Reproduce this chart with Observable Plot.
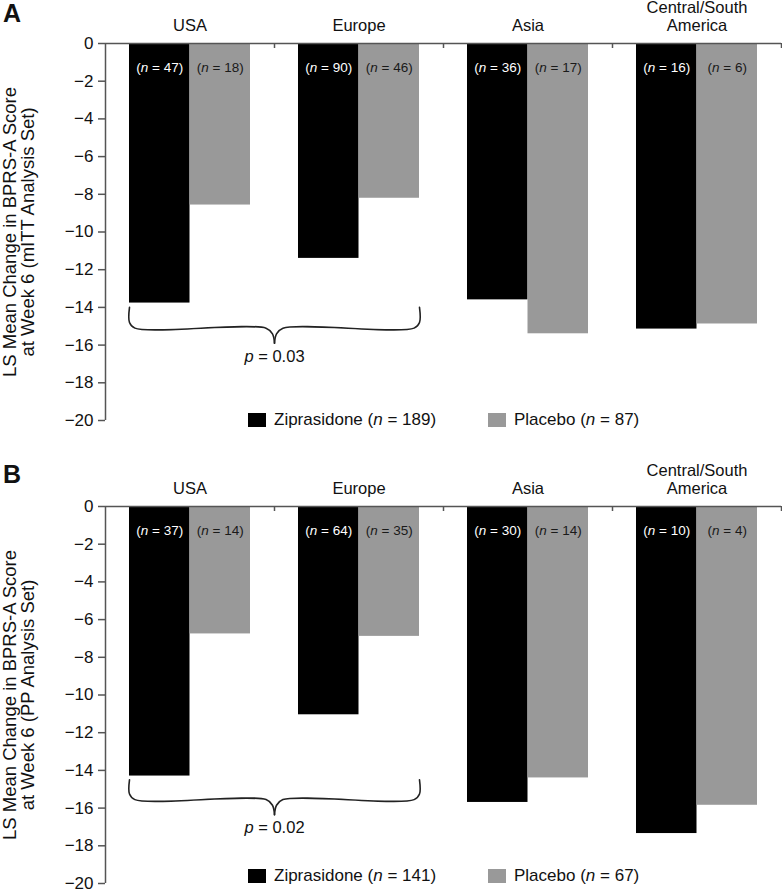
<!DOCTYPE html>
<html>
<head>
<meta charset="utf-8">
<script src="https://cdn.jsdelivr.net/npm/d3@7"></script>
<script src="https://cdn.jsdelivr.net/npm/@observablehq/plot@0.6"></script>
<style>
  html, body { margin: 0; padding: 0; background: #fff; overflow: hidden; }
  body { font-family: "Liberation Sans", Arial, Helvetica, sans-serif; color: #111; }
  .panel { position: relative; width: 782px; }
  .tag { position: absolute; left: 3px; font-weight: bold; font-size: 25px; line-height: 25px; }
  .legend { position: absolute; display: flex; align-items: center; font-size: 17px; line-height: 20px; height: 20px; white-space: pre; }
  .sw { display: inline-block; width: 18px; height: 14px; margin-right: 8px; }
</style>
</head>
<body>
<div id="chart"></div>
<script>
// ---------- data ----------
const regions = ["USA", "Europe", "Asia", "Central/South\nAmerica"];
const seriesNames = ["Ziprasidone", "Placebo"];
const seriesColors = ["#000000", "#999999"];
const yTicks = [0, -2, -4, -6, -8, -10, -12, -14, -16, -18, -20];

// Panel A: mITT analysis set
const mittZiprasidone = [-13.77, -11.4, -13.6, -15.15];
const mittPlacebo = [-8.57, -8.21, -15.4, -14.88];
const mittNZiprasidone = [47, 90, 36, 16];
const mittNPlacebo = [18, 46, 17, 6];
const mittTotals = [189, 87];
const mittP = "0.03";
const mittBrace = [-14.0, -15.1, -15.9, -16.6]; // top, arm, tip, label

// Panel B: PP analysis set
const ppZiprasidone = [-14.3, -11.05, -15.7, -17.35];
const ppPlacebo = [-6.76, -6.89, -14.4, -15.85];
const ppNZiprasidone = [37, 64, 30, 10];
const ppNPlacebo = [14, 35, 14, 4];
const ppTotals = [141, 67];
const ppP = "0.02";
const ppBrace = [-14.5, -15.55, -16.35, -17.05];

// ---------- layout constants ----------
const PAD = 0.142;  // outer gap inside a region band (fraction)
const BW = 0.358;   // bar width (fraction of region band)
const AXIS = "#555";
const FONT = "'Liberation Sans', Arial, Helvetica, sans-serif";

function italicize(svg, letter) {
  svg.querySelectorAll("text").forEach(el => {
    if (el.querySelector("tspan")) return;
    const s = el.textContent;
    const i = s.indexOf(letter + " =");
    if (i < 0) return;
    el.textContent = "";
    el.appendChild(document.createTextNode(s.slice(0, i)));
    const t = document.createElementNS("http://www.w3.org/2000/svg", "tspan");
    t.setAttribute("font-style", "italic");
    t.textContent = letter;
    el.appendChild(t);
    el.appendChild(document.createTextNode(s.slice(i + 1)));
  });
}

function makePanel(cfg) {
  const rows = [];
  regions.forEach((r, i) => {
    rows.push({region: r, i, s: 0, value: cfg.zip[i], n: cfg.nZip[i]});
    rows.push({region: r, i, s: 1, value: cfg.pla[i], n: cfg.nPla[i]});
  });
  const bx1 = d => d.i + PAD + d.s * BW;
  const bx2 = d => d.i + PAD + (d.s + 1) * BW;
  const bxc = d => d.i + PAD + (d.s + 0.5) * BW;

  // brace spanning USA & Europe bars
  const [bTop, bArm, bTip, bLab] = cfg.brace;
  const xL = 0 + PAD, xR = 1 + PAD + 2 * BW, xM = 1;
  const braceLeft = [
    [xL, bTop], [xL, bArm + 0.3], [xL + 0.032, bArm], [xM - 0.05, bArm], [xM - 0.012, bArm - 0.3], [xM, bTip]
  ].map(([x, y]) => ({x, y, side: "L"}));
  const braceRight = [
    [xR, bTop], [xR, bArm + 0.3], [xR - 0.032, bArm], [xM + 0.05, bArm], [xM + 0.012, bArm - 0.3], [xM, bTip]
  ].map(([x, y]) => ({x, y, side: "R"}));

  const height = cfg.height;
  const marginTop = 43, marginBottom = height - 420;
  const frameH = height - marginTop - marginBottom;

  const plot = Plot.plot({
    width: 782,
    height,
    marginLeft: 105,
    marginRight: 1,
    marginTop,
    marginBottom,
    style: {fontFamily: FONT, fontSize: "16.5px", color: "#111", background: "white", overflow: "visible"},
    x: {domain: [0, regions.length]},
    y: {domain: [-20, 0]},
    marks: [
      Plot.rect(rows.filter(d => d.s === 0), {x1: bx1, x2: bx2, y1: 0, y2: "value", fill: seriesColors[0]}),
      Plot.rect(rows.filter(d => d.s === 1), {x1: bx1, x2: bx2, y1: 0, y2: "value", fill: seriesColors[1]}),
      Plot.text(rows.filter(d => d.s === 0), {x: bxc, frameAnchor: "top", dy: 19, text: d => `(n = ${d.n})`, fill: "#fff", fontSize: 13.5}),
      Plot.text(rows.filter(d => d.s === 1), {x: bxc, frameAnchor: "top", dy: 19, text: d => `(n = ${d.n})`, fill: "#1a1a1a", fontSize: 13.5}),
      Plot.ruleY([0], {stroke: AXIS, strokeWidth: 1.5}),
      Plot.ruleX([0], {stroke: AXIS, strokeWidth: 1.5}),
      Plot.tickX(regions.map((_, i) => i + 1), {stroke: AXIS, strokeWidth: 1.5, insetBottom: frameH - 5}),
      Plot.line([...braceLeft, ...braceRight], {x: "x", y: "y", z: "side", curve: "catmull-rom", stroke: "#222", strokeWidth: 1.6}),
      Plot.text([`p = ${cfg.p}`], {x: xM, y: bLab, text: d => d, fontSize: 16.5, fill: "#111"}),
      Plot.text([cfg.ylabel], {frameAnchor: "left", dx: -86.5, rotate: -90, textAnchor: "middle", text: d => d, fontSize: 18.5, lineHeight: 1.0, fill: "#111"}),
      Plot.axisY({ticks: yTicks, tickSize: 7, tickPadding: 5, fontSize: 17, stroke: AXIS, strokeWidth: 1.5, fill: "#111", label: null,
        tickFormat: d => d === 0 ? "0" : "\u2212" + Math.abs(d)}),
      Plot.axisX({anchor: "top", ticks: regions.map((_, i) => i + 0.5), tickFormat: d => regions[Math.floor(d)],
        tickSize: 0, tickPadding: 13, fontSize: 16.5, fill: "#111", label: null, lineHeight: 1.05})
    ]
  });
  italicize(plot, "n");
  italicize(plot, "p");

  const div = document.createElement("div");
  div.className = "panel";
  div.style.height = height + "px";
  div.appendChild(plot);

  const tag = document.createElement("div");
  tag.className = "tag";
  tag.style.top = cfg.tagTop + "px";
  tag.textContent = cfg.tag;
  div.appendChild(tag);

  const legendItems = [
    {left: 248, color: seriesColors[0], name: seriesNames[0], n: cfg.totals[0]},
    {left: 488, color: seriesColors[1], name: seriesNames[1], n: cfg.totals[1]}
  ];
  legendItems.forEach(it => {
    const lg = document.createElement("div");
    lg.className = "legend";
    lg.style.left = it.left + "px";
    lg.style.top = cfg.legendTop + "px";
    lg.innerHTML = `<span class="sw" style="background:${it.color}"></span><span>${it.name} (<i>n</i> = ${it.n})</span>`;
    div.appendChild(lg);
  });
  return div;
}

const chart = document.getElementById("chart");
chart.appendChild(makePanel({
  tag: "A", tagTop: 1, height: 463, legendTop: 410,
  zip: mittZiprasidone, pla: mittPlacebo, nZip: mittNZiprasidone, nPla: mittNPlacebo,
  totals: mittTotals, p: mittP, brace: mittBrace,
  ylabel: "LS Mean Change in BPRS-A Score\nat Week 6 (mITT Analysis Set)"
}));
chart.appendChild(makePanel({
  tag: "B", tagTop: -1, height: 426, legendTop: 403,
  zip: ppZiprasidone, pla: ppPlacebo, nZip: ppNZiprasidone, nPla: ppNPlacebo,
  totals: ppTotals, p: ppP, brace: ppBrace,
  ylabel: "LS Mean Change in BPRS-A Score\nat Week 6 (PP Analysis Set)"
}));
</script>
</body>
</html>
